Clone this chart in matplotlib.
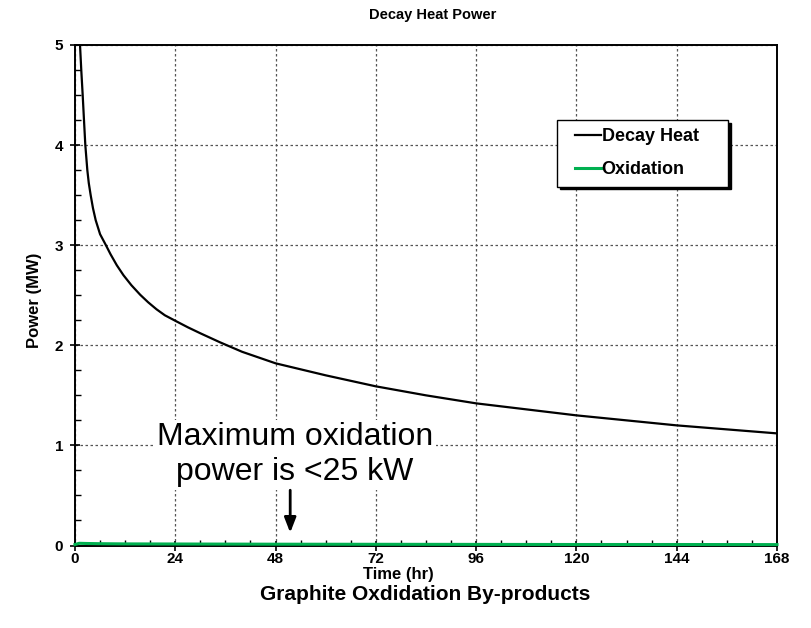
import matplotlib
matplotlib.use("Agg")
import matplotlib.pyplot as plt
from matplotlib.ticker import MultipleLocator
from matplotlib.lines import Line2D
from matplotlib.legend_handler import HandlerLine2D

plt.rcParams['font.family'] = ['Liberation Sans', 'DejaVu Sans']

# Decay heat (MW) vs time (hr)
decay_t = [1.2, 1.5, 1.84, 2.15, 2.47, 2.95, 3.3, 3.75, 4.3, 4.95, 6.0, 7.4, 8.5, 10.0,
           11.6, 13.5, 15.6, 17.5, 19.5, 21.5, 24, 27, 30, 34.7, 40, 48, 60, 72, 84,
           96, 108, 120, 132, 144, 156, 168]
decay_p = [5.0, 4.75, 4.5, 4.25, 4.0, 3.75, 3.62, 3.5, 3.37, 3.25, 3.11, 3.0, 2.91, 2.80,
           2.70, 2.60, 2.505, 2.43, 2.36, 2.30, 2.245, 2.18, 2.12, 2.03, 1.935, 1.82, 1.70,
           1.59, 1.50, 1.42, 1.36, 1.30, 1.25, 1.20, 1.16, 1.12]

# Oxidation power (MW) vs time (hr)
oxid_t = [0, 1, 3, 6, 12, 24, 48, 72, 96, 120, 144, 168]
oxid_p = [0.01, 0.022, 0.02, 0.018, 0.016, 0.015, 0.013, 0.012, 0.011, 0.010, 0.010, 0.009]

x_ticks = [0, 24, 48, 72, 96, 120, 144, 168]
y_ticks = [0, 1, 2, 3, 4, 5]

W, H = 811, 628
fig = plt.figure(figsize=(W / 100, H / 100), dpi=100)
ax = fig.add_axes([75 / W, 1 - 545.5 / H, 702 / W, 500.5 / H])

ax.plot(decay_t, decay_p, color='black', lw=1.6, label='Decay Heat', zorder=3)
ax.plot(oxid_t, oxid_p, color='#00B050', lw=2.2, label='Oxidation', zorder=4, clip_on=False)

ax.set_xlim(0, 168)
ax.set_ylim(0, 5)
ax.set_xticks(x_ticks)
ax.set_yticks(y_ticks)
ax.xaxis.set_minor_locator(MultipleLocator(6))
ax.yaxis.set_minor_locator(MultipleLocator(0.25))
ax.tick_params(which='major', direction='inout', length=7, width=1.2, labelsize=11, pad=1.5)
ax.tick_params(axis='y', which='major', pad=5)
ax.tick_params(which='minor', direction='in', length=4, width=1)
for lab in ax.get_xticklabels() + ax.get_yticklabels():
    lab.set_fontweight('bold')

ax.grid(True, which='major', linestyle=(0, (2, 2)), color='#555555', lw=0.9)
for s in ax.spines.values():
    s.set_linewidth(1.4)
    s.set_color('black')

fig.text(433 / W, 1 - 15 / H, 'Decay Heat Power', ha='center', va='center',
         fontsize=10.5, fontweight='bold')
fig.text(35 / W, 1 - 300 / H, 'Power (MW)', ha='center', va='center', rotation=90,
         fontsize=12, fontweight='bold')
fig.text(398 / W, 1 - 574 / H, 'Time (hr)', ha='center', va='center',
         fontsize=12, fontweight='bold')
fig.text(425 / W, 1 - 595 / H, 'Graphite Oxdidation By-products', ha='center', va='center',
         fontsize=15, fontweight='bold')

ax.text(52.6, 0.905, 'Maximum oxidation\npower is <25 kW', ha='center', va='center',
        fontsize=23, linespacing=1.22,
        bbox=dict(facecolor='white', edgecolor='none', pad=2), zorder=5)
ax.annotate('', xy=(51.5, 0.1), xytext=(51.5, 0.58),
            arrowprops=dict(arrowstyle='-|>,head_length=0.9,head_width=0.35',
                            color='black', lw=2), zorder=6)

leg = ax.legend(loc='upper left', bbox_to_anchor=(0.687, 0.714, 0.2436, 0.136),
                mode='expand', frameon=True,
                fancybox=False, shadow={'color': 'black', 'alpha': 1},
                prop={'weight': 'bold', 'size': 13}, handlelength=1.95,
                handletextpad=0.05, borderpad=0.45, labelspacing=0.9,
                borderaxespad=0,
                handler_map={Line2D: HandlerLine2D(xpad=0.55)})
leg.get_frame().set_edgecolor('black')
leg.get_frame().set_linewidth(1.0)
leg.set_zorder(10)

fig.savefig('out.png', dpi=100)
